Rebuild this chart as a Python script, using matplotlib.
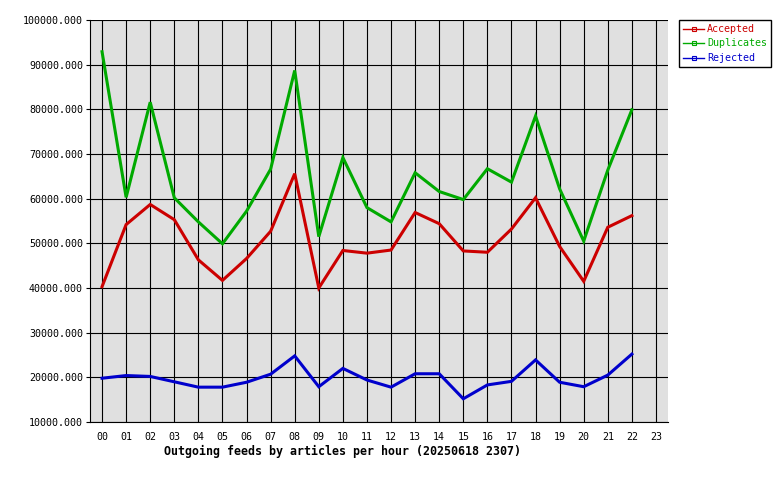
import matplotlib
matplotlib.use("Agg")
import matplotlib.pyplot as plt
import numpy as np

HOURS = [f"{h:02d}" for h in range(24)]

# valores (hora 23 sin datos)
accepted = [40300, 54200, 58700, 55300, 46300, 41700, 46600, 52700, 65600, 40000,
            48400, 47800, 48500, 56900, 54400, 48300, 48000, 53200, 60200, 49300,
            41500, 53600, 56200]
duplicates = [92900, 60300, 81600, 60200, 54800, 49900, 57200, 66600, 88700, 51500,
              69200, 58000, 54800, 65800, 61600, 59800, 66700, 63700, 78500, 62200,
              50500, 66400, 79900]
rejected = [19800, 20400, 20200, 19000, 17800, 17800, 18900, 20700, 24800, 17900,
            22000, 19400, 17800, 20800, 20800, 15200, 18300, 19100, 23900, 18900,
            17900, 20500, 25200]

SERIES = [("Accepted", accepted, "#cc0000"),
          ("Duplicates", duplicates, "#00aa00"),
          ("Rejected", rejected, "#0000cc")]

Y_TICKS = np.arange(10000, 100001, 10000)

W, H = 780, 480
fig = plt.figure(figsize=(W / 100, H / 100), dpi=100)
ax = fig.add_axes([90 / W, 1 - 422 / H, (668 - 90) / W, (422 - 20) / H])
ax.set_facecolor("#e0e0e0")

for nombre, vals, col in SERIES:
    x = np.arange(len(vals))
    ax.plot(x, vals, color=col, lw=2.2, label=nombre, solid_joinstyle="miter", zorder=3)

ax.set_xlim(-0.5, 23.5)
ax.set_ylim(10000, 100000)
ax.set_xticks(range(24))
ax.set_xticklabels(HOURS, family="DejaVu Sans Mono", fontsize=7.2)
ax.set_yticks(Y_TICKS)
ax.set_yticklabels([f"{v:.3f}" for v in Y_TICKS], family="DejaVu Sans Mono", fontsize=7.2)
ax.tick_params(axis="x", length=0, pad=7)
ax.tick_params(axis="y", length=3, width=0.8, pad=2)
ax.grid(True, color="black", lw=0.8, zorder=1)
ax.set_axisbelow(True)
for lado in ("top", "right"):
    ax.spines[lado].set_visible(False)
for lado in ("left", "bottom"):
    ax.spines[lado].set_linewidth(0.8)

# el titulo del original no esta centrado en el eje: va corrido a la izquierda
ax.set_xlabel("Outgoing feeds by articles per hour (20250618 2307)",
              family="DejaVu Sans Mono", fontsize=8.4, fontweight="bold")
ax.xaxis.set_label_coords((343 - 90) / (668 - 90), -(445 - 422) / (422 - 20))

handles = [plt.Line2D([], [], color=c, lw=1, marker="s", ms=2.5, mfc="none", mew=0.8)
           for _, _, c in SERIES]
leg = fig.legend(handles, [n for n, _, _ in SERIES], loc="upper left",
                 bbox_to_anchor=(679 / W, 1 - 20 / H), borderaxespad=0,
                 prop={"family": "DejaVu Sans Mono", "size": 7.2},
                 fancybox=False, edgecolor="black", framealpha=1,
                 handlelength=2.1, handletextpad=0.3, labelspacing=0.45,
                 borderpad=0.4, markerscale=1)
leg.get_frame().set_linewidth(1)
for t, (_, _, c) in zip(leg.get_texts(), SERIES):
    t.set_color(c)

fig.savefig("out.png", dpi=100)
